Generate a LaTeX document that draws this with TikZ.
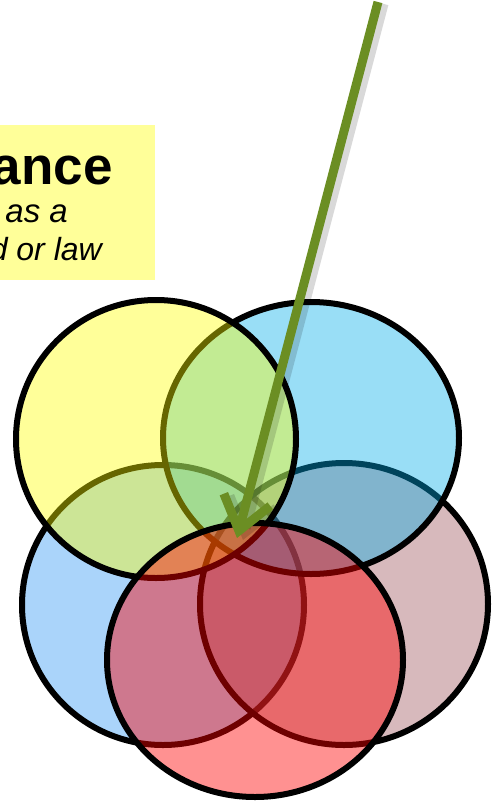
\documentclass[tikz,border=0pt]{standalone}
\usepackage{fontspec}
\setmainfont{Liberation Sans}
\usepackage{xcolor}
\definecolor{note}{RGB}{255,255,153}
\definecolor{lemon}{RGB}{255,255,0}
\definecolor{sky}{RGB}{0,172,232}
\definecolor{cornflower}{RGB}{42,147,242}
\definecolor{mauve}{RGB}{155,80,87}
\definecolor{scarlet}{RGB}{255,0,0}
\definecolor{leaf}{RGB}{107,142,35}
\usepackage{tikz}
\usetikzlibrary{arrows.meta}
\tikzset{
  %% overlapping discs
  disc/.style={draw=black, line width=6pt, fill=#1, fill opacity=0.4},
  %% green pointer
  pointer/.style={line width=9pt,
    -{Straight Barb[length=32pt,width=48pt]}},
  notetext/.style={anchor=base east, inner sep=0pt},
}

\begin{document}
\begin{tikzpicture}[x=1pt,y=-1pt]
\useasboundingbox (0,0) rectangle (492,803);
\clip (0,0) rectangle (492,803);
%% note box, cut at the left
\fill[note] (-10,125) rectangle (155,280);
\node[notetext, font=\fontsize{53}{53}\selectfont\bfseries] (title) at (113,184) {ance};
\node[notetext, font=\fontsize{33}{33}\selectfont\itshape] (lineA) at (68,222) {as a};
\node[notetext, font=\fontsize{32}{32}\selectfont\itshape] (lineB) at (102,260) {d or law};
%% discs, back to front
\draw[disc=cornflower] (163,605) ellipse [x radius=141, y radius=140];
\draw[disc=mauve] (344,604) ellipse [x radius=144, y radius=141];
\draw[disc=sky] (311,438) ellipse [x radius=148, y radius=136];
\draw[disc=lemon] (156,439) ellipse [x radius=140, y radius=139];
\draw[disc=scarlet, fill opacity=0.43] (255,660) ellipse [x radius=148, y radius=137];
%% pointer
\coordinate (src) at (378,2);
\coordinate (tip) at (237,538);
\draw[pointer, black, opacity=0.15] ([shift={(6,2)}]src) -- ([shift={(6,2)}]tip);
\draw[pointer, leaf] (src) -- (tip);
\end{tikzpicture}
\end{document}
